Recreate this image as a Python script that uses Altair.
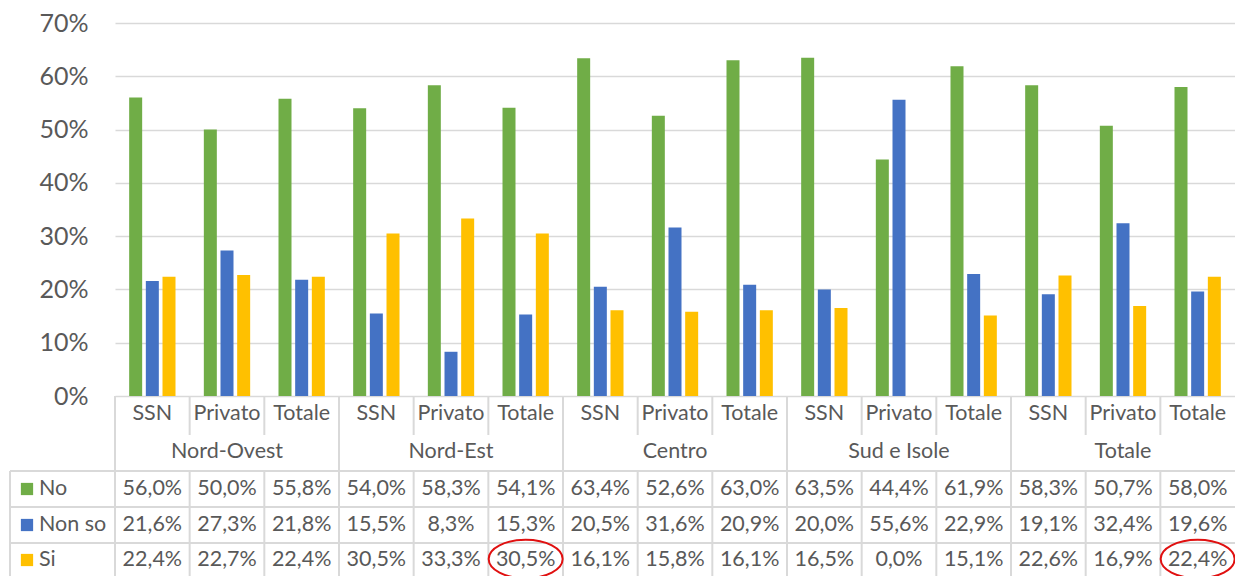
import altair as alt
import pandas as pd

regions = ["Nord-Ovest", "Nord-Est", "Centro", "Sud e Isole", "Totale"]
subs = ["SSN", "Privato", "Totale"]
series = ["No", "Non so", "Si"]
colors = ["#70AD47", "#4472C4", "#FFC000"]
no_vals = [56.0, 50.0, 55.8, 54.0, 58.3, 54.1, 63.4, 52.6, 63.0, 63.5, 44.4, 61.9, 58.3, 50.7, 58.0]
nonso_vals = [21.6, 27.3, 21.8, 15.5, 8.3, 15.3, 20.5, 31.6, 20.9, 20.0, 55.6, 22.9, 19.1, 32.4, 19.6]
si_vals = [22.4, 22.7, 22.4, 30.5, 33.3, 30.5, 16.1, 15.8, 16.1, 16.5, 0.0, 15.1, 22.6, 16.9, 22.4]
highlight = [("Nord-Est", "Totale"), ("Totale", "Totale")]

FONT = "Lato"
GREY = "#595959"
LINE = "#D9D9D9"
FS = 21.5
W, H = 1120, 373

keys, rows_long, rows_wide = [], [], []
vals = {"No": no_vals, "Non so": nonso_vals, "Si": si_vals}
i = 0
for r in regions:
    for s in subs:
        k = f"{r}|{s}"
        keys.append(k)
        w = {"key": k, "region": r, "sub": s}
        for ser in series:
            v = vals[ser][i]
            rows_long.append({"key": k, "series": ser, "value": v / 100})
            w[ser] = f"{v:.1f}%".replace(".", ",")
        rows_wide.append(w)
        i += 1
long_df = pd.DataFrame(rows_long)
wide_df = pd.DataFrame(rows_wide)
hl_df = pd.DataFrame([{"key": f"{r}|{s}"} for r, s in highlight])
ser_df = pd.DataFrame({"series": series})
one = pd.DataFrame({"a": [0]})

xscale = alt.Scale(domain=keys, paddingInner=0, paddingOuter=0)


def xenc(band=None):
    if band is None:
        return alt.X("key:N", scale=xscale, axis=None)
    return alt.X("key:N", scale=xscale, axis=None, bandPosition=band)


color = alt.Color("series:N", scale=alt.Scale(domain=series, range=colors), legend=None)

bars = alt.Chart(long_df).mark_bar().encode(
    x=xenc(),
    xOffset=alt.XOffset("series:N", sort=series,
                        scale=alt.Scale(domain=series, paddingInner=0.22, paddingOuter=0.85)),
    y=alt.Y("value:Q", scale=alt.Scale(domain=[0, 0.7]),
            axis=alt.Axis(format=".0%", values=[0, 0.1, 0.2, 0.3, 0.4, 0.5, 0.6, 0.7],
                          grid=True, gridColor=LINE, gridWidth=1.5, domain=False, ticks=False,
                          labelFontSize=25, labelColor=GREY, labelFont=FONT, labelPadding=27,
                          title=None)),
    color=color,
)

layers = [bars]

BOTTOM = H + 200
# table: category labels
layers.append(alt.Chart(wide_df).mark_text(font=FONT, fontSize=FS, color=GREY).encode(
    x=xenc(), y=alt.value(391), text="sub:N"))
# region labels
layers.append(alt.Chart(wide_df).transform_filter(alt.datum.sub == "Privato").mark_text(
    font=FONT, fontSize=FS, color=GREY).encode(x=xenc(), y=alt.value(429), text="region:N"))
# value rows
row_y = {"No": 466, "Non so": 502, "Si": 537}
for ser in series:
    layers.append(alt.Chart(wide_df).mark_text(font=FONT, fontSize=FS, color=GREY).encode(
        x=xenc(), y=alt.value(row_y[ser]), text=alt.Text(f"{ser}:N")))
    layers.append(alt.Chart(ser_df).transform_filter(alt.datum.series == ser).mark_square(
        size=150, opacity=1).encode(x=alt.value(-88), y=alt.value(row_y[ser]), color=color))
    layers.append(alt.Chart(ser_df).transform_filter(alt.datum.series == ser).mark_text(
        font=FONT, fontSize=FS, color=GREY, align="left").encode(
        x=alt.value(-76), y=alt.value(row_y[ser]), text="series:N"))

# table grid lines
layers.append(alt.Chart(wide_df).transform_filter(alt.datum.sub == "SSN").mark_rule(
    color=LINE, strokeWidth=2).encode(x=xenc(0), y=alt.value(373), y2=alt.value(BOTTOM)))
layers.append(alt.Chart(wide_df).transform_filter(alt.datum.sub != "SSN").mark_rule(
    color=LINE, strokeWidth=2).encode(x=xenc(0), y=alt.value(373), y2=alt.value(412)))
layers.append(alt.Chart(wide_df).transform_filter(alt.datum.sub != "SSN").mark_rule(
    color=LINE, strokeWidth=2).encode(x=xenc(0), y=alt.value(448), y2=alt.value(BOTTOM)))
for yy in [448, 484, 520]:
    layers.append(alt.Chart(one).mark_rule(color=LINE, strokeWidth=2).encode(
        x=alt.value(-105), x2=alt.value(W), y=alt.value(yy)))
layers.append(alt.Chart(one).mark_rule(color=LINE, strokeWidth=2).encode(
    x=alt.value(-105), y=alt.value(448), y2=alt.value(BOTTOM)))

# highlight ellipses
ellipse = "M-1,0 A1,0.52 0 1,1 1,0 A1,0.52 0 1,1 -1,0 Z"
layers.append(alt.Chart(hl_df).mark_point(
    shape=ellipse, size=5476, filled=False, stroke="#E01010", strokeWidth=2, opacity=1).encode(
    x=xenc(), y=alt.value(536)))

chart = alt.layer(*layers).properties(
    width=W, height=H,
    autosize=alt.AutoSizeParams(type="none"),
    padding={"left": 107, "top": 15, "right": 0, "bottom": 180},
).configure_view(stroke=None)

chart.save("out.html", embed_options={"renderer": "svg", "actions": False})
